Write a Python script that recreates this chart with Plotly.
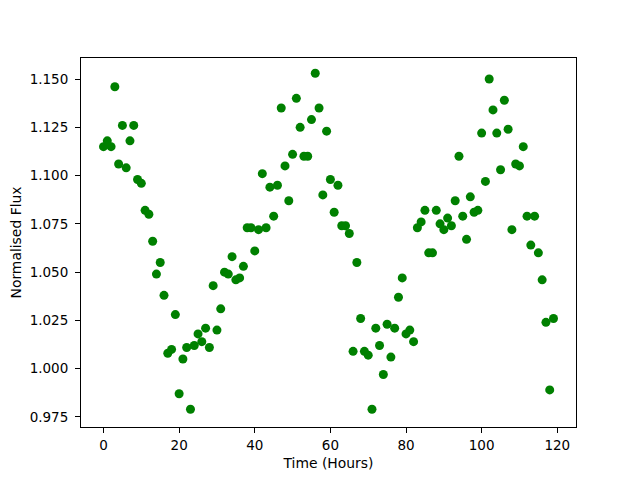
import plotly.graph_objects as go

time_hours = list(range(120))
flux = [
    1.115, 1.118, 1.115, 1.146, 1.106, 1.126, 1.104, 1.118, 1.126, 1.098,
    1.096, 1.082, 1.080, 1.066, 1.049, 1.055, 1.038, 1.008, 1.010, 1.028,
    0.987, 1.005, 1.011, 0.979, 1.012, 1.018, 1.014, 1.021, 1.011, 1.043,
    1.020, 1.031, 1.050, 1.049, 1.058, 1.046, 1.047, 1.053, 1.073, 1.073,
    1.061, 1.072, 1.101, 1.073, 1.094, 1.079, 1.095, 1.135, 1.105, 1.087,
    1.111, 1.140, 1.125, 1.110, 1.110, 1.129, 1.153, 1.135, 1.090, 1.123,
    1.098, 1.081, 1.095, 1.074, 1.074, 1.070, 1.009, 1.055, 1.026, 1.009,
    1.007, 0.979, 1.021, 1.012, 0.997, 1.023, 1.006, 1.021, 1.037, 1.047,
    1.018, 1.020, 1.014, 1.073, 1.076, 1.082, 1.060, 1.060, 1.082, 1.075,
    1.072, 1.078, 1.074, 1.087, 1.110, 1.079, 1.067, 1.089, 1.081, 1.082,
    1.122, 1.097, 1.150, 1.134, 1.122, 1.103, 1.139, 1.124, 1.072, 1.106,
    1.105, 1.115, 1.079, 1.064, 1.079, 1.060, 1.046, 1.024, 0.989, 1.026,
]
x_ticks = [0, 20, 40, 60, 80, 100, 120]
y_ticks = [0.975, 1.000, 1.025, 1.050, 1.075, 1.100, 1.125, 1.150]

fig = go.Figure(go.Scatter(
    x=time_hours, y=flux, mode="markers",
    marker=dict(color="#008000", size=9, line=dict(width=0)),
))

axis_common = dict(
    showgrid=False, zeroline=False, showline=True, linecolor="black",
    linewidth=1, mirror=True, ticks="outside", ticklen=5, tickcolor="black",
    automargin=False,
    tickfont=dict(family="DejaVu Sans", size=13.5, color="black"),
)
fig.update_layout(
    width=640, height=480,
    margin=dict(l=73, r=72, t=50, b=61),
    paper_bgcolor="white", plot_bgcolor="white",
    showlegend=False,
    font=dict(family="DejaVu Sans", size=13.5, color="black"),
    xaxis=dict(range=[-5.95, 124.95], tickvals=x_ticks, ticklabelstandoff=1,
               title=dict(text="Time (Hours)", standoff=6,
                          font=dict(size=13.9)), **axis_common),
    yaxis=dict(range=[0.9698, 1.1609], tickvals=y_ticks,
               ticktext=[f"{v:.3f}" for v in y_ticks], ticklabelstandoff=4,
               title=dict(text="Normalised Flux", standoff=8,
                          font=dict(size=13.9)), **axis_common),
)
fig.write_html("out.html")
